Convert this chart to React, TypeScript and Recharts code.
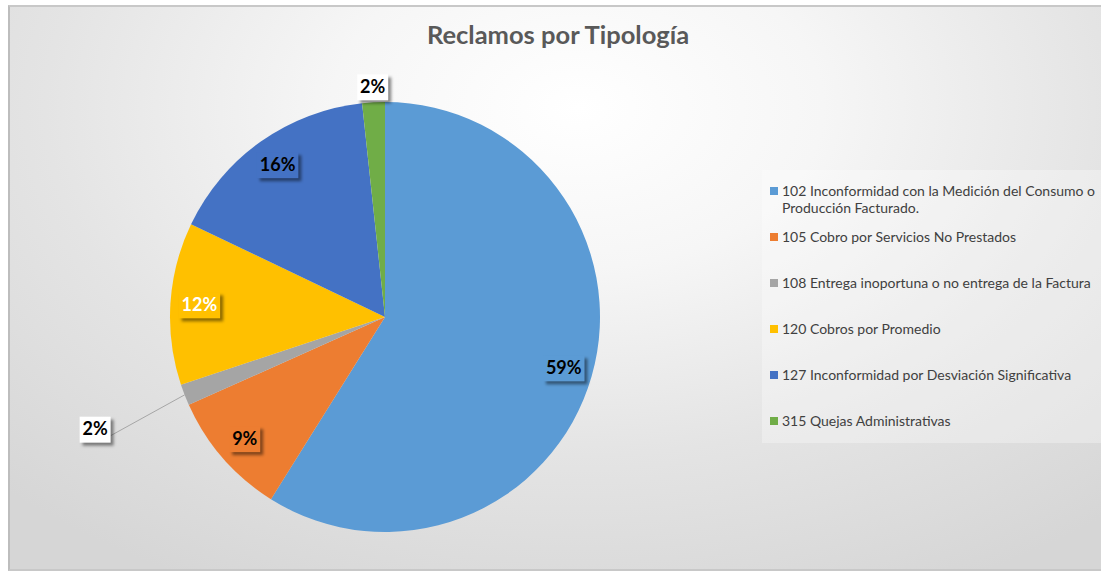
import React from 'react';
import { PieChart, Pie, Cell, Legend } from 'recharts';

const categories = [
  '102 Inconformidad con la Medición del Consumo o Producción Facturado.',
  '105 Cobro por Servicios No Prestados',
  '108 Entrega inoportuna o no entrega de la Factura',
  '120 Cobros por Promedio',
  '127 Inconformidad por Desviación Significativa',
  '315 Quejas Administrativas',
];
const values = [58.9, 9.4, 1.6, 12.2, 16.2, 1.7];
const colors = ['#5B9BD5', '#ED7D31', '#A5A5A5', '#FFC000', '#4472C4', '#70AD47'];
const labelTextColors = ['#000000', '#000000', '#000000', '#FFFFFF', '#000000', '#000000'];
const labelModes = ['inside', 'inside', 'leader', 'inside', 'inside', 'outside'];

const data = categories.map((name, i) => ({ name, value: values[i] }));

const RAD = Math.PI / 180;
const FONT = 'Lato, "Open Sans", sans-serif';

const renderLabel = (props: any) => {
  const { cx, cy, midAngle, outerRadius, percent, index } = props;
  const mode = labelModes[index];
  const text = `${Math.round(percent * 100)}%`;
  let r = outerRadius * 0.865;
  if (mode === 'outside') r = outerRadius + 15;
  if (mode === 'leader') r = outerRadius + 96;
  const cos = Math.cos(-midAngle * RAD);
  const sin = Math.sin(-midAngle * RAD);
  const x = cx + r * cos;
  const y = cy + r * sin;
  const w = text.length * 10.5 + 10;
  const h = 26;
  const fill = mode === 'inside' ? colors[index] : '#FFFFFF';
  const fid = `lblshadow${index}`;
  return (
    <g key={`lbl-${index}`}>
      <defs>
        <filter id={fid} x="-30%" y="-30%" width="160%" height="160%">
          <feGaussianBlur stdDeviation="1.5" />
        </filter>
      </defs>
      {mode === 'leader' && (
        <line
          x1={cx + outerRadius * cos}
          y1={cy + outerRadius * sin}
          x2={x + w / 2}
          y2={y + 6}
          stroke="#A6A6A6"
          strokeWidth={1}
        />
      )}
      <rect x={x - w / 2 + 3} y={y - h / 2 + 3} width={w} height={h} fill="rgba(0,0,0,0.45)" filter={`url(#${fid})`} />
      <rect x={x - w / 2} y={y - h / 2} width={w} height={h} fill={fill} />
      <text
        x={x}
        y={y + 1}
        textAnchor="middle"
        dominantBaseline="middle"
        fill={labelTextColors[index]}
        fontFamily={FONT}
        fontWeight={700}
        fontSize={18}
      >
        {text}
      </text>
    </g>
  );
};

const renderLegend = () => (
  <div
    style={{
      width: 333,
      background: 'rgba(255,255,255,0.3)',
      padding: '12px 0 14px 8px',
      fontFamily: FONT,
      fontSize: 14,
      color: '#404040',
      lineHeight: '17px',
    }}
  >
    {categories.map((c, i) => (
      <div key={c} style={{ display: 'flex', alignItems: 'flex-start', marginBottom: i === 0 ? 12 : i === categories.length - 1 ? 0 : 29 }}>
        <span
          style={{
            display: 'inline-block',
            width: 8,
            height: 8,
            background: colors[i],
            marginTop: 5,
            marginRight: 4,
            flexShrink: 0,
          }}
        />
        <span>{c}</span>
      </div>
    ))}
  </div>
);

export default function App() {
  return (
    <div
      style={{
        position: 'absolute',
        left: 0,
        top: 0,
        width: 1101,
        height: 576,
        overflow: 'hidden',
        background: '#ffffff',
      }}
    >
      <div
        style={{
          position: 'absolute',
          left: 8,
          top: 5,
          width: 1093,
          height: 566,
          borderTop: '2px solid #C8C8C8',
          borderLeft: '2px solid #BDBDBD',
          borderBottom: '2px solid #C8C8C8',
          boxSizing: 'border-box',
          background:
            'radial-gradient(ellipse 75% 95% at 52% 18%, #ffffff 0%, #f6f6f6 30%, #e4e4e4 65%, #d6d6d6 100%)',
        }}
      />
      <div
        style={{
          position: 'absolute',
          left: 0,
          width: 1116,
          top: 19,
          textAlign: 'center',
          fontFamily: FONT,
          fontWeight: 700,
          fontSize: 25.5,
          color: '#595959',
        }}
      >
        Reclamos por Tipología
      </div>
      <div style={{ position: 'absolute', left: 0, top: 0 }}>
        <PieChart width={1101} height={576}>
          <Pie
            data={data}
            dataKey="value"
            nameKey="name"
            cx={380}
            cy={312}
            outerRadius={215}
            startAngle={90}
            endAngle={-270}
            stroke="none"
            labelLine={false}
            label={renderLabel}
            isAnimationActive={false}
          >
            {data.map((d, i) => (
              <Cell key={d.name} fill={colors[i]} />
            ))}
          </Pie>
          <Legend
            layout="vertical"
            content={renderLegend}
            wrapperStyle={{ left: 762, top: 170, width: 339 }}
          />
        </PieChart>
      </div>
    </div>
  );
}
